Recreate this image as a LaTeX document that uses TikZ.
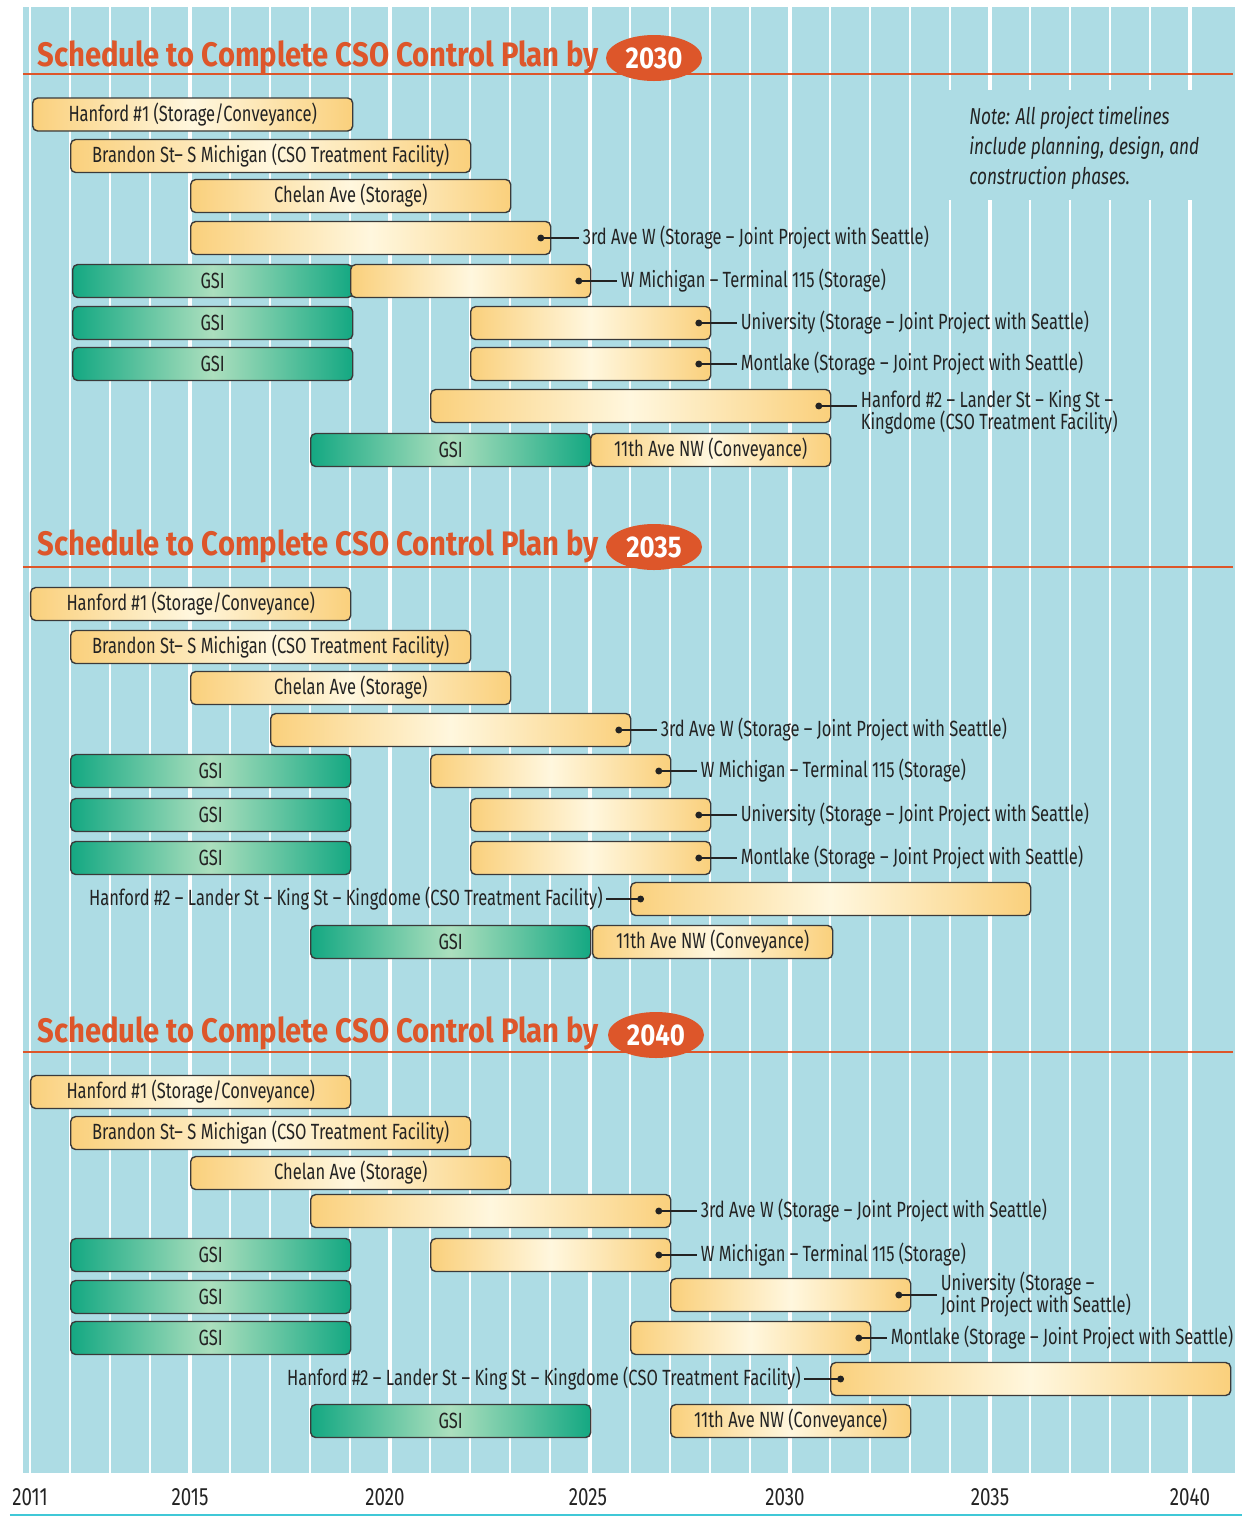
\documentclass[tikz,border=0pt]{standalone}
\usepackage{fontspec}
\setmainfont[FakeStretch=0.75]{Fira Sans}
\newfontfamily\headfont[FakeStretch=0.86]{Fira Sans}
\usetikzlibrary{positioning}
\usetikzlibrary{shapes.geometric}
\usetikzlibrary{arrows.meta}
\definecolor{bgblue}{RGB}{173,220,228}
\definecolor{titlered}{RGB}{221,86,42}
\definecolor{barline}{RGB}{58,58,58}
\definecolor{ylwedge}{RGB}{250,208,124}
\definecolor{ylwmid}{RGB}{255,247,222}
\definecolor{gsiedge}{RGB}{20,168,130}
\definecolor{gsimid}{RGB}{172,223,190}
\definecolor{ink}{RGB}{35,35,35}
\definecolor{axiscyan}{RGB}{64,200,215}

\begin{document}
\begin{tikzpicture}[x=20pt,y=-0.5pt,
	ybar/.style={draw=barline,
				line width=0.7pt,
				rounded corners=2.5pt,
				left color=ylwedge, right color=ylwedge, middle color=ylwmid,
				minimum height=16.5pt,
				inner sep=0pt,
				anchor=west,
				text=ink,
				font=\fontsize{11}{13}\selectfont},
	gbar/.style={ybar, left color=gsiedge, right color=gsiedge, middle color=gsimid},
	years/.style={minimum width=#1*20pt},
	lbl/.style={inner sep=1.5pt, text=ink, align=left, font=\fontsize{11}{13}\selectfont},
	dotline/.style={{Circle[length=3.4pt]}-, line width=0.8pt, draw=ink},
	ttl/.style={anchor=west, inner sep=0pt, text=titlered, font=\headfont\bfseries\fontsize{17}{20}\selectfont},
	yearoval/.style={ellipse, fill=titlered, minimum width=48pt, minimum height=23pt, inner sep=0pt, text=white, font=\headfont\bfseries\fontsize{15}{17}\selectfont},
	rule/.style={draw=titlered, line width=1pt}]
	\useasboundingbox (-0.75,0) rectangle (30.45,1517);
	% background and year grid
	\fill[bgblue] (-0.175,7) rectangle (30.125,1473);
	\foreach \i in {0,...,29} \draw[white, line width=1pt] (\i,7) -- (\i,1473);
	\foreach \i in {4,9,...,29} \draw[white, line width=2pt] (\i,7) -- (\i,1473);
	\fill[bgblue] (22.6,90) rectangle (30.125,200);
	\draw[axiscyan, line width=1pt] (-0.5,1515) -- (30.3,1515);
	\foreach \yy/\o in {2011/0,2015/4,2020/8.875,2025/13.95,2030/18.875,2035/24,2040/29}
		\node[lbl, font=\fontsize{12.5}{14}\selectfont] (yr\yy) at (\o,1497) {\yy};

	% --- 2030 ---
	\draw[rule] (-0.175,74) -- (30.075,74);
	\node[ttl] (at) at (0.175,57) {Schedule to Complete CSO Control Plan by};
	\node[yearoval] (ay) at (15.6,58) {2030};
	\node[lbl, anchor=north west, font=\itshape\fontsize{11.5}{15}\selectfont] (note) at (23.4,103) {Note: All project timelines\\include planning, design, and\\construction phases.};
	\node[ybar, years=8] (a1) at (0.05,114.5) {Hanford \#1 (Storage/Conveyance)};
	\node[ybar, years=10] (a2) at (1,156) {Brandon St-- S Michigan (CSO Treatment Facility)};
	\node[ybar, years=8] (a3) at (4,196) {Chelan Ave (Storage)};
	\node[ybar, years=9] (a4) at (4,238) {};
	\node[gbar, years=7] (ag5) at (1.05,281) {GSI};
	\node[ybar, years=6] (a5) at (8,281) {};
	\node[gbar, years=7] (ag6) at (1.05,323) {GSI};
	\node[ybar, years=6] (a6) at (11,323) {};
	\node[gbar, years=7] (ag7) at (1.05,364) {GSI};
	\node[ybar, years=6] (a7) at (11,364) {};
	\node[ybar, years=10] (a8) at (10,406) {};
	\node[gbar, years=7] (ag9) at (7,450) {GSI};
	\node[ybar, years=6] (a9) at (14,450) {11th Ave NW (Conveyance)};
	\coordinate (ad4) at ([xshift=-7pt]a4.east);
	\coordinate (ad5) at ([xshift=-8pt]a5.east);
	\coordinate (ad6) at ([xshift=-8pt]a6.east);
	\coordinate (ad7) at ([xshift=-8pt]a7.east);
	\coordinate (ad8) at ([xshift=-8pt]a8.east);
	\node[lbl, right=21pt of ad4] (al4) {3rd Ave W (Storage -- Joint Project with Seattle)};
	\node[lbl, right=21pt of ad5] (al5) {W Michigan -- Terminal 115 (Storage)};
	\node[lbl, right=21pt of ad6] (al6) {University (Storage -- Joint Project with Seattle)};
	\node[lbl, right=21pt of ad7] (al7) {Montlake (Storage -- Joint Project with Seattle)};
	\node[lbl, right=21pt of ad8, yshift=-3pt] (al8) {Hanford \#2 -- Lander St -- King St --\\[-2pt]Kingdome (CSO Treatment Facility)};
	\draw[dotline] (ad4) -- (al4);
	\draw[dotline] (ad5) -- (al5);
	\draw[dotline] (ad6) -- (al6);
	\draw[dotline] (ad7) -- (al7);
	\draw[dotline] (ad8) -- (ad8 -| al8.west);

	% --- 2035 ---
	\draw[rule] (-0.175,567) -- (30.075,567);
	\node[ttl] (bt) at (0.175,546) {Schedule to Complete CSO Control Plan by};
	\node[yearoval] (by) at (15.6,547) {2035};
	\node[ybar, years=8] (b1) at (0,604) {Hanford \#1 (Storage/Conveyance)};
	\node[ybar, years=10] (b2) at (1,647) {Brandon St-- S Michigan (CSO Treatment Facility)};
	\node[ybar, years=8] (b3) at (4,688) {Chelan Ave (Storage)};
	\node[ybar, years=9] (b4) at (6,730) {};
	\node[gbar, years=7] (bg5) at (1,771) {GSI};
	\node[ybar, years=6] (b5) at (10,771) {};
	\node[gbar, years=7] (bg6) at (1,815) {GSI};
	\node[ybar, years=6] (b6) at (11,815) {};
	\node[gbar, years=7] (bg7) at (1,858) {GSI};
	\node[ybar, years=6] (b7) at (11,858) {};
	\node[ybar, years=10] (b8) at (15,899) {};
	\node[gbar, years=7] (bg9) at (7,942) {GSI};
	\node[ybar, years=6] (b9) at (14.05,942) {11th Ave NW (Conveyance)};
	\coordinate (bd4) at ([xshift=-8pt]b4.east);
	\coordinate (bd5) at ([xshift=-8pt]b5.east);
	\coordinate (bd6) at ([xshift=-8pt]b6.east);
	\coordinate (bd7) at ([xshift=-8pt]b7.east);
	\coordinate (bd8) at ([xshift=7pt]b8.west);
	\node[lbl, right=21pt of bd4] (bl4) {3rd Ave W (Storage -- Joint Project with Seattle)};
	\node[lbl, right=21pt of bd5] (bl5) {W Michigan -- Terminal 115 (Storage)};
	\node[lbl, right=21pt of bd6] (bl6) {University (Storage -- Joint Project with Seattle)};
	\node[lbl, right=21pt of bd7] (bl7) {Montlake (Storage -- Joint Project with Seattle)};
	\node[lbl, left=19pt of bd8] (bl8) {Hanford \#2 -- Lander St -- King St -- Kingdome (CSO Treatment Facility)};
	\draw[dotline] (bd4) -- (bl4);
	\draw[dotline] (bd5) -- (bl5);
	\draw[dotline] (bd6) -- (bl6);
	\draw[dotline] (bd7) -- (bl7);
	\draw[dotline] (bd8) -- (bl8);

	% --- 2040 ---
	\draw[rule] (-0.175,1052) -- (30.075,1052);
	\node[ttl] (ct) at (0.175,1033) {Schedule to Complete CSO Control Plan by};
	\node[yearoval] (cy) at (15.65,1035) {2040};
	\node[ybar, years=8] (c1) at (0,1092) {Hanford \#1 (Storage/Conveyance)};
	\node[ybar, years=10] (c2) at (1,1133) {Brandon St-- S Michigan (CSO Treatment Facility)};
	\node[ybar, years=8] (c3) at (4,1173) {Chelan Ave (Storage)};
	\node[ybar, years=9] (c4) at (7,1211) {};
	\node[gbar, years=7] (cg5) at (1,1255) {GSI};
	\node[ybar, years=6] (c5) at (10,1255) {};
	\node[gbar, years=7] (cg6) at (1,1297) {GSI};
	\node[ybar, years=6] (c6) at (16,1295) {};
	\node[gbar, years=7] (cg7) at (1,1338) {GSI};
	\node[ybar, years=6] (c7) at (15,1338) {};
	\node[ybar, years=10] (c8) at (20,1379) {};
	\node[gbar, years=7] (cg9) at (7,1421) {GSI};
	\node[ybar, years=6] (c9) at (16,1421) {11th Ave NW (Conveyance)};
	\coordinate (cd4) at ([xshift=-8pt]c4.east);
	\coordinate (cd5) at ([xshift=-8pt]c5.east);
	\coordinate (cd6) at ([xshift=-8pt]c6.east);
	\coordinate (cd7) at ([xshift=-8pt]c7.east);
	\coordinate (cd8) at ([xshift=7pt]c8.west);
	\node[lbl, right=21pt of cd4] (cl4) {3rd Ave W (Storage -- Joint Project with Seattle)};
	\node[lbl, right=21pt of cd5] (cl5) {W Michigan -- Terminal 115 (Storage)};
	\node[lbl, right=21pt of cd6] (cl6) {University (Storage --\\[-2pt]Joint Project with Seattle)};
	\node[lbl, right=16pt of cd7] (cl7) {Montlake (Storage -- Joint Project with Seattle)};
	\node[lbl, left=20pt of cd8] (cl8) {Hanford \#2 -- Lander St -- King St -- Kingdome (CSO Treatment Facility)};
	\draw[dotline] (cd4) -- (cl4);
	\draw[dotline] (cd5) -- (cl5);
	\draw[dotline] (cd6) -- (cl6);
	\draw[dotline] (cd7) -- (cl7);
	\draw[dotline] (cd8) -- (cl8);
\end{tikzpicture}
\end{document}
